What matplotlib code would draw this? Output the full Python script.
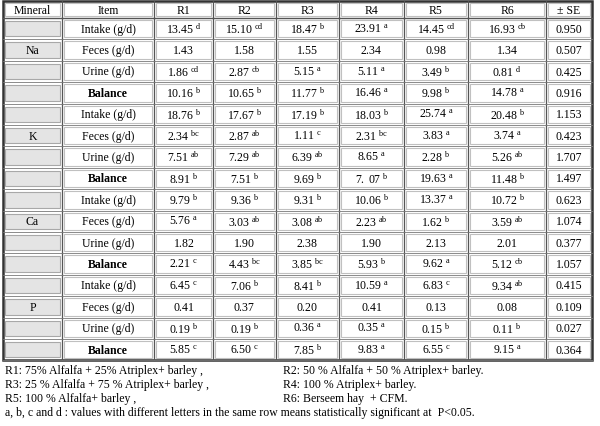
import matplotlib
matplotlib.use("Agg")
import matplotlib.pyplot as plt
from matplotlib.patches import Rectangle

plt.rcParams['font.family'] = 'Liberation Serif'
plt.rcParams['mathtext.fontset'] = 'custom'
plt.rcParams['mathtext.rm'] = 'Liberation Serif'
plt.rcParams['mathtext.bf'] = 'Liberation Serif:bold'

# ---- data ----
header = ["Mineral", "Item", "R1", "R2", "R3", "R4", "R5", "R6", "± SE"]
minerals = ["Na", "K", "Ca", "P"]
items = ["Intake (g/d)", "Feces (g/d)", "Urine (g/d)", "Balance"]

values = [
    ["13.45", "15.10", "18.47", "23.91", "14.45", "16.93"],
    ["1.43", "1.58", "1.55", "2.34", "0.98", "1.34"],
    ["1.86", "2.87", "5.15", "5.11", "3.49", "0.81"],
    ["10.16", "10.65", "11.77", "16.46", "9.98", "14.78"],
    ["18.76", "17.67", "17.19", "18.03", "25.74", "20.48"],
    ["2.34", "2.87", "1.11", "2.31", "3.83", "3.74"],
    ["7.51", "7.29", "6.39", "8.65", "2.28", "5.26"],
    ["8.91", "7.51", "9.69", "7. 07", "19.63", "11.48"],
    ["9.79", "9.36", "9.31", "10.06", "13.37", "10.72"],
    ["5.76", "3.03", "3.08", "2.23", "1.62", "3.59"],
    ["1.82", "1.90", "2.38", "1.90", "2.13", "2.01"],
    ["2.21", "4.43", "3.85", "5.93", "9.62", "5.12"],
    ["6.45", "7.06", "8.41", "10.59", "6.83", "9.34"],
    ["0.41", "0.37", "0.20", "0.41", "0.13", "0.08"],
    ["0.19", "0.19", "0.36", "0.35", "0.15", "0.11"],
    ["5.85", "6.50", "7.85", "9.83", "6.55", "9.15"],
]
letters = [
    ["d", "cd", "b", "a", "cd", "cb"],
    ["", "", "", "", "", ""],
    ["cd", "cb", "a", "a", "b", "d"],
    ["b", "b", "b", "a", "b", "a"],
    ["b", "b", "b", "b", "a", "b"],
    ["bc", "ab", "c", "bc", "a", "a"],
    ["ab", "ab", "ab", "a", "b", "ab"],
    ["b", "b", "b", "b", "a", "b"],
    ["b", "b", "b", "b", "a", "b"],
    ["a", "ab", "ab", "ab", "b", "ab"],
    ["", "", "", "", "", ""],
    ["c", "bc", "bc", "b", "a", "cb"],
    ["c", "b", "b", "a", "c", "ab"],
    ["", "", "", "", "", ""],
    ["b", "b", "a", "a", "b", "b"],
    ["c", "c", "b", "a", "c", "a"],
]
se = ["0.950", "0.507", "0.425", "0.916", "1.153", "0.423", "1.707", "1.497",
      "0.623", "1.074", "0.377", "1.057", "0.415", "0.109", "0.027", "0.364"]

notes_left = ["R1: 75% Alfalfa + 25% Atriplex+ barley ,",
              "R3: 25 % Alfalfa + 75 % Atriplex+ barley ,",
              "R5: 100 % Alfalfa+ barley ,"]
notes_right = ["R2: 50 % Alfalfa + 50 % Atriplex+ barley.",
               "R4: 100 % Atriplex+ barley.",
               "R6: Berseem hay  + CFM."]
note_last = "a, b, c and d : values with different letters in the same row means statistically significant at  P<0.05."

# ---- layout ----
col_x = [3, 62, 154, 213, 276, 339, 404, 468, 546, 592]
top, head_h, row_h = 2, 17, 21.4

fig = plt.figure(figsize=(6, 4.27), dpi=100)
ax = fig.add_axes([0, 0, 1, 1])
ax.set_xlim(0, 600)
ax.set_ylim(427, 0)
ax.axis('off')

def cx(i):
    return (col_x[i] + col_x[i + 1]) / 2

fs = 8.5
y0 = top + head_h
# header
for i, h in enumerate(header):
    ax.add_patch(Rectangle((col_x[i] + 2, top + 2), col_x[i + 1] - col_x[i] - 4, head_h - 4,
                           fill=False, ec='#c0c0c0', lw=0.8))
    ax.text(cx(i), top + head_h / 2 + 0.5, h, ha='center', va='center', fontsize=fs)

for r in range(16):
    y = y0 + r * row_h
    yc = y + row_h / 2
    # mineral column grey cell
    ax.add_patch(Rectangle((col_x[0] + 2, y + 3), col_x[1] - col_x[0] - 4, row_h - 6,
                           fc='#e4e4e4', ec='#a8a8a8', lw=0.8))
    if r % 4 == 1:
        ax.text(cx(0), yc, minerals[r // 4], ha='center', va='center', fontsize=fs)
    for i in range(1, 9):
        ax.add_patch(Rectangle((col_x[i] + 2, y + 2), col_x[i + 1] - col_x[i] - 4, row_h - 4,
                               fill=False, ec='#c0c0c0', lw=0.8))
    it = items[r % 4]
    ax.text(cx(1), yc, it, ha='center', va='center', fontsize=fs,
            fontweight='bold' if it == "Balance" else 'normal')
    for j in range(6):
        v = values[r][j]
        s = letters[r][j]
        txt = r'$\mathregular{' + v.replace(' ', r'\,') + (r'^{\ ' + s + '}' if s else '') + '}$'
        ax.text(cx(j + 2), yc, txt, ha='center', va='center', fontsize=fs)
    ax.text(cx(8), yc, se[r], ha='center', va='center', fontsize=fs)

bottom = y0 + 16 * row_h
for i in range(1, 9):
    ax.plot([col_x[i], col_x[i]], [top, bottom], color='#555555', lw=0.9)
for r in range(17):
    yy = y0 + r * row_h
    ax.plot([col_x[0], col_x[-1]], [yy, yy], color='#777777', lw=0.6)
ax.plot([col_x[0], col_x[-1]], [top + head_h, top + head_h], color='#555555', lw=1.0)
ax.add_patch(Rectangle((col_x[0], top), col_x[-1] - col_x[0], bottom - top,
                       fill=False, ec='#333333', lw=1.8))

# footnotes
ny = bottom + 10
for k in range(3):
    ax.text(5, ny + k * 14, notes_left[k], ha='left', va='center', fontsize=8.5)
    ax.text(283, ny + k * 14, notes_right[k], ha='left', va='center', fontsize=8.5)
ax.text(5, ny + 3 * 14, note_last, ha='left', va='center', fontsize=8.5)

fig.savefig("out.png", dpi=100)
